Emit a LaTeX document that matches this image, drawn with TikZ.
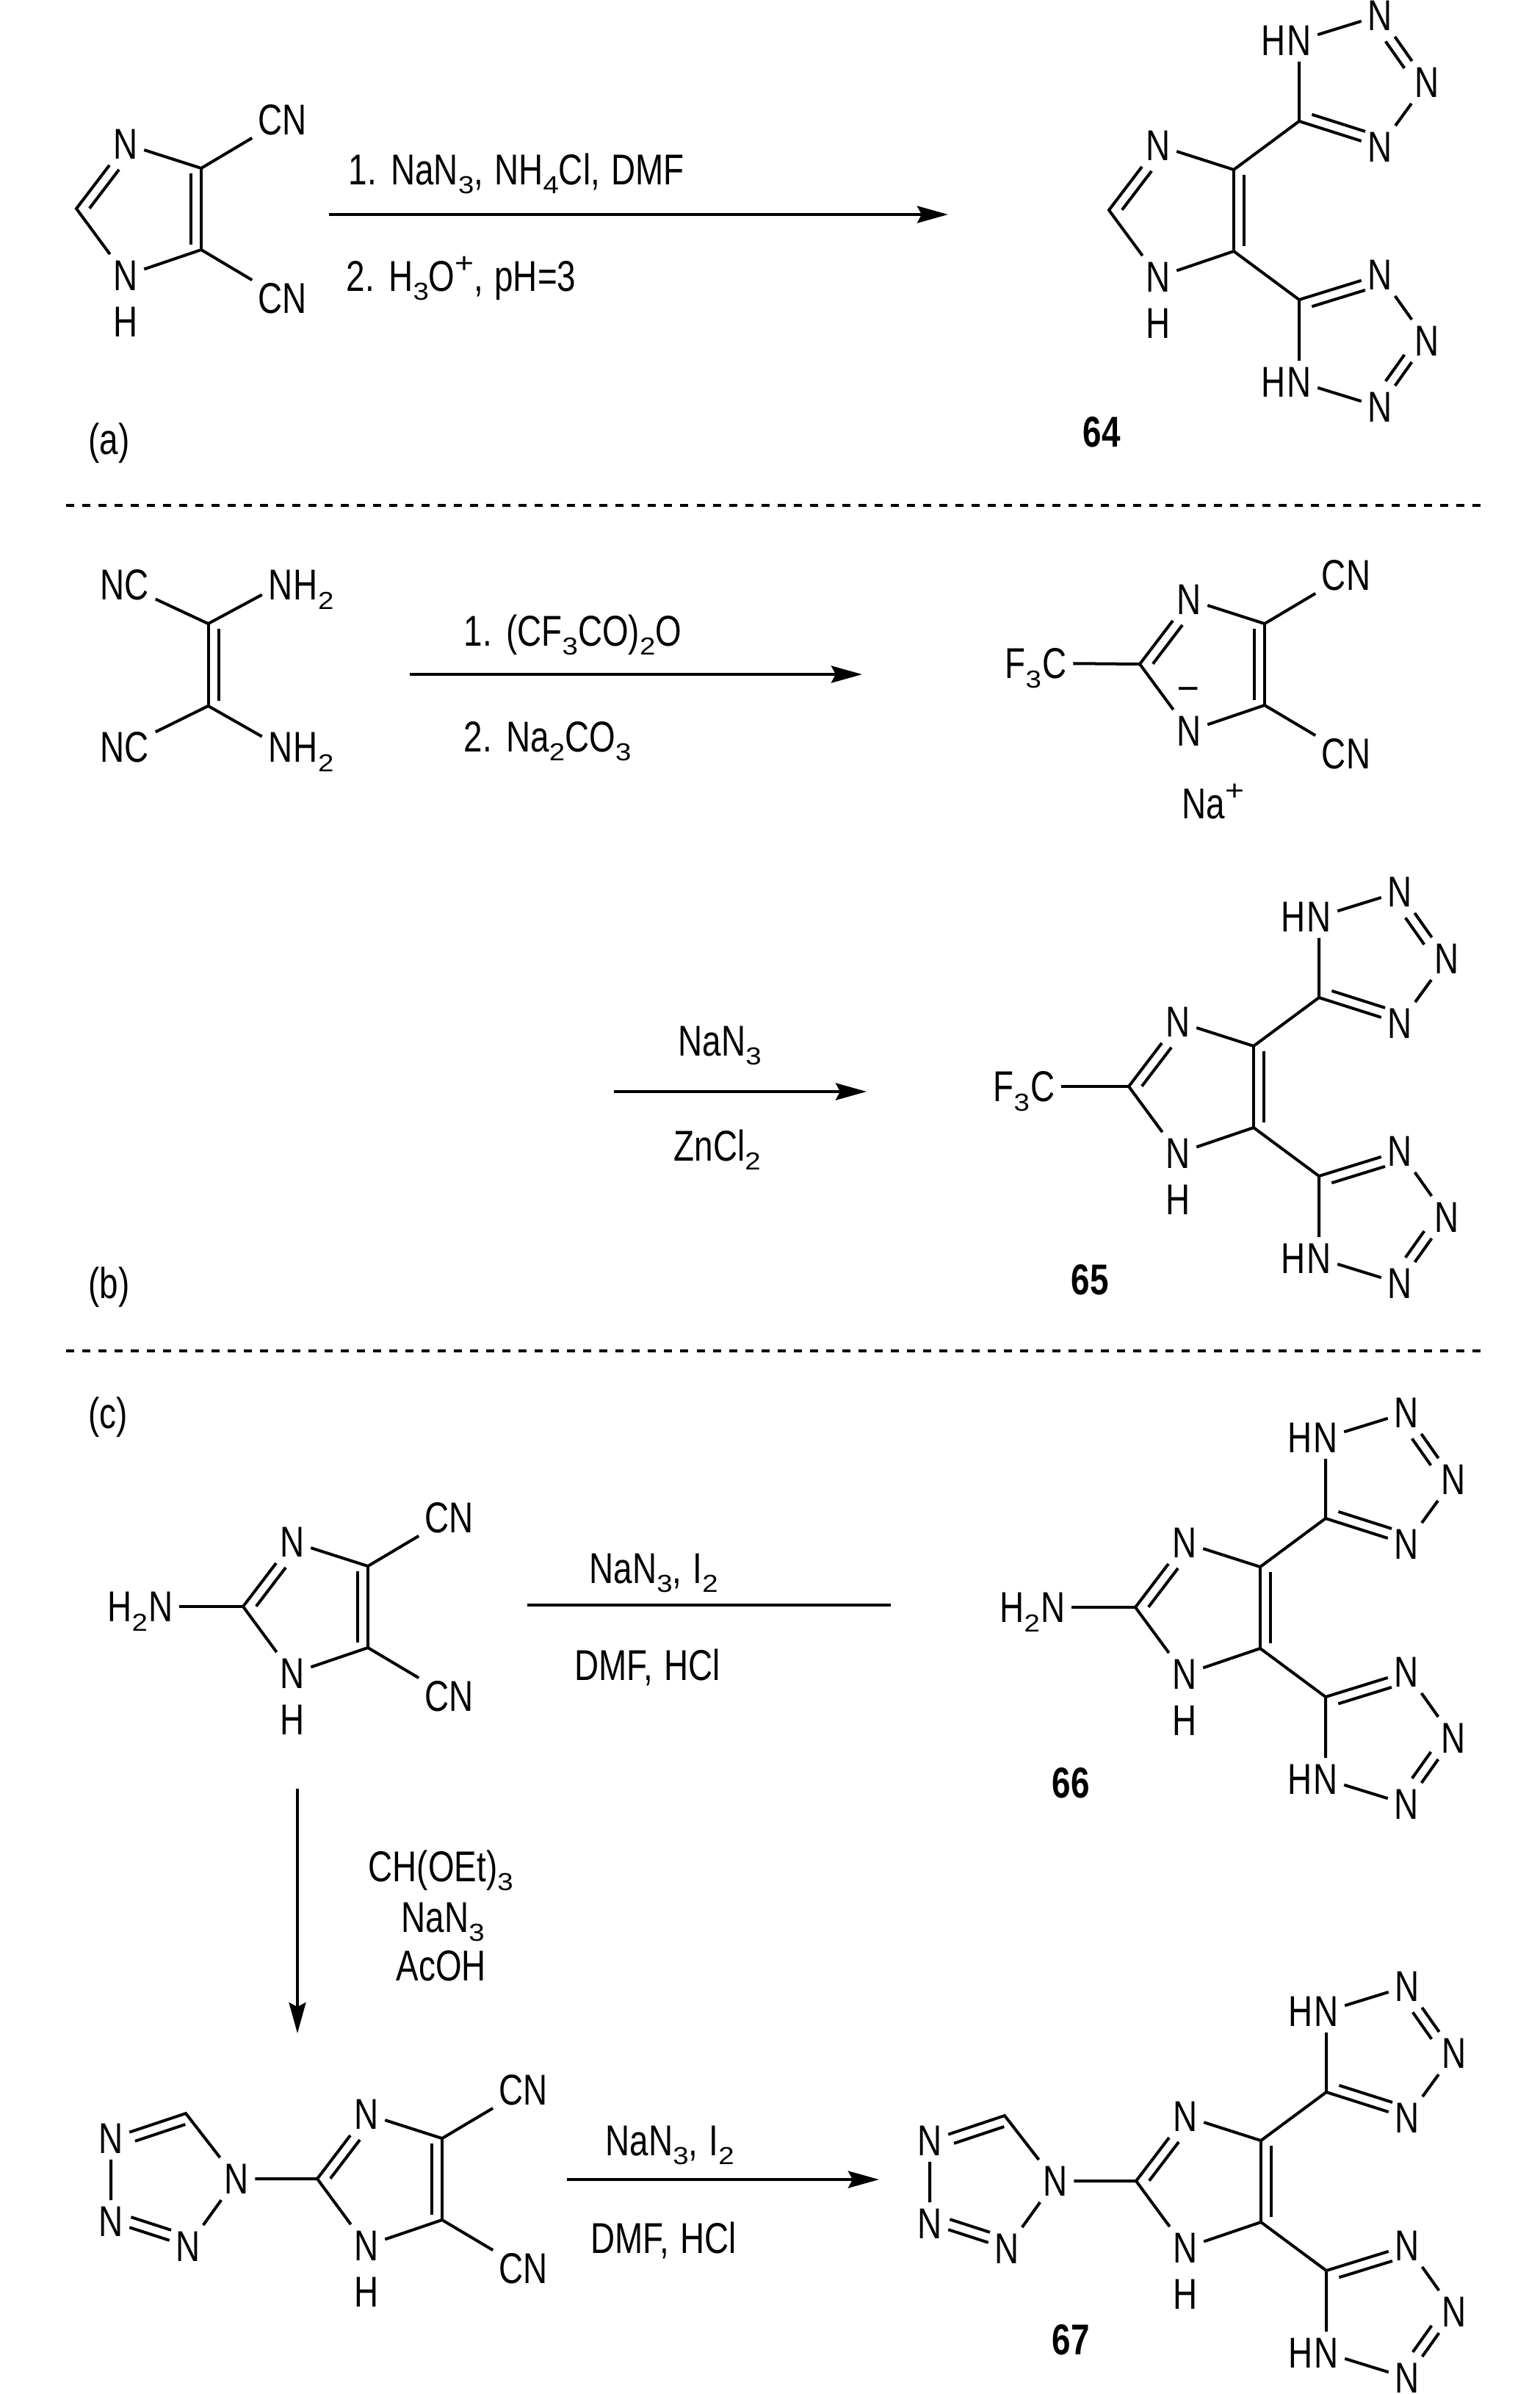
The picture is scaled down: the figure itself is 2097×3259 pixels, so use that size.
\documentclass[tikz,border=0pt]{standalone}
\usepackage{fontspec}
\setmainfont[FakeStretch=0.78, WordSpace=1.2]{Liberation Sans}
\newfontfamily\scriptface[FakeStretch=1.15]{Liberation Sans}
\usetikzlibrary{arrows.meta,calc}

\newcommand{\lo}[1]{\raisebox{-.22em}{\scriptface\fontsize{9.5}{10}\selectfont #1}}
\newcommand{\hi}[1]{\raisebox{.42em}{\scriptface\fontsize{11}{12}\selectfont #1}}

\tikzset{
	atom/.style={inner sep=0.08cm},
	tail/.style={inner sep=0pt},
	cond/.style={inner sep=0pt, anchor=base west},
	numlabel/.style={inner sep=0pt, anchor=base, font=\fontsize{16.7}{18}\selectfont\bfseries},
	bond/.style={line width=0.04cm, line cap=butt},
	rxn/.style={line width=0.045cm, -{Stealth[length=0.42cm, width=0.23cm, inset=0.06cm]}},
	every node/.append style={font=\fontsize{16.7}{18}\selectfont}
}

% second stroke of a double bond
\newcommand{\dblbond}[5]{
	\draw[bond] ($(#1)!#3!(#2)!0.14cm!#5:(#2)$) -- ($(#1)!#4!(#2)!0.14cm!#5:(#2)$);
}
\newcommand{\lefttail}[2]{
	\node[tail, anchor=base east] (#1t) at ([xshift=0.08cm]#1.base west) {#2};
}
\newcommand{\righttail}[2]{
	\node[tail, anchor=base west] (#1t) at ([xshift=-0.08cm]#1.base east) {#2};
}
% five-membered ring, #3 is the side of the inner C=C stroke
\newcommand{\imring}[3]{
	\begin{scope}[shift={#2}]
		\coordinate (#1c4) at (0,0);
		\coordinate (#1c5) at (0,111);
		\coordinate (#1c2) at (-170,55);
		\node[atom] (#1n3) at (-103,-33) {N};
		\node[atom] (#1n1) at (-103,146) {N};
		\draw[bond] (#1c4) -- (#1c5);
		\draw[bond] (#1c4) -- (#1n3) -- (#1c2) -- (#1n1) -- (#1c5);
		\dblbond{#1c4}{#1c5}{0.06}{0.94}{#3}
		\dblbond{#1c2}{#1n3}{0.1}{0.7}{-90}
	\end{scope}
}
\newcommand{\ringh}[2]{
	\begin{scope}[shift={#2}]
		\node[atom] (#1h) at (-103,209) {H};
	\end{scope}
}
\newcommand{\dicyano}[2]{
	\begin{scope}[shift={#2}]
		\node[atom] (#1cna) at (111,-66) {CN};
		\node[atom] (#1cnb) at (111,177) {CN};
		\draw[bond] (#1c4) -- (#1cna);
		\draw[bond] (#1c5) -- (#1cnb);
	\end{scope}
}
\newcommand{\bistet}[2]{
	\begin{scope}[shift={#2}]
		\coordinate (#1ca) at (89,-66);
		\node[atom] (#1na) at (89,-176) {N};
		\lefttail{#1na}{H}
		\node[atom] (#1nb) at (199,-210) {N};
		\node[atom] (#1nc) at (263,-119) {N};
		\node[atom] (#1nd) at (199,-31) {N};
		\draw[bond] (#1c4) -- (#1ca) -- (#1na) -- (#1nb) -- (#1nc) -- (#1nd) -- (#1ca);
		\dblbond{#1ca}{#1nd}{0.12}{0.78}{90}
		\dblbond{#1nb}{#1nc}{0.3}{0.7}{-90}
		\coordinate (#1cb) at (89,177);
		\node[atom] (#1ne) at (199,143) {N};
		\node[atom] (#1nf) at (263,233) {N};
		\node[atom] (#1ng) at (199,323) {N};
		\node[atom] (#1nh) at (89,289) {N};
		\lefttail{#1nh}{H}
		\draw[bond] (#1c5) -- (#1cb) -- (#1ne) -- (#1nf) -- (#1ng) -- (#1nh) -- (#1cb);
		\dblbond{#1cb}{#1ne}{0.12}{0.78}{-90}
		\dblbond{#1ng}{#1nf}{0.3}{0.7}{90}
	\end{scope}
}
\newcommand{\sidetet}[2]{
	\begin{scope}[shift={#2}]
		\node[atom] (#1sa) at (-280,55) {N};
		\coordinate (#1sb) at (-349,-34);
		\node[atom] (#1sc) at (-451,0) {N};
		\node[atom] (#1sd) at (-451,113) {N};
		\node[atom] (#1se) at (-346,147) {N};
		\draw[bond] (#1c2) -- (#1sa) -- (#1sb) -- (#1sc) -- (#1sd) -- (#1se) -- (#1sa);
		\dblbond{#1sb}{#1sc}{0.05}{0.72}{90}
		\dblbond{#1sd}{#1se}{0.22}{0.74}{90}
	\end{scope}
}

\begin{document}
\begin{tikzpicture}[x=0.01cm, y=-0.01cm]
	\path[use as bounding box, fill=white] (0,0) rectangle (2097,3259);

	\foreach \y [count=\i] in {687.5, 1839} {
		\coordinate (sepa\i) at (90,\y);
		\coordinate (sepb\i) at (2016,\y);
		\draw[line width=0.04cm, dash pattern=on 0.11cm off 0.11cm] (sepa\i) -- (sepb\i);
	}

	\foreach \px/\py/\txt [count=\i] in {
		474/251/{1. NaN\lo{3}, NH\lo{4}Cl, DMF},
		471/396/{2. H\lo{3}O\hi{+}, pH=3},
		631/879/{1. (CF\lo{3}CO)\lo{2}O},
		631/1023/{2. Na\lo{2}CO\lo{3}},
		923/1437/{NaN\lo{3}},
		917/1580/{ZnCl\lo{2}},
		802/2155/{NaN\lo{3}, I\lo{2}},
		782/2287/{DMF, HCl},
		501/2561/{CH(OEt)\lo{3}},
		546/2630/{NaN\lo{3}},
		539/2696/{AcOH},
		824/2934/{NaN\lo{3}, I\lo{2}},
		804/3067/{DMF, HCl},
		120/618/{(a)},
		120/1767/{(b)},
		120/1944/{(c)}}
		\node[cond] (cond\i) at (\px,\py) {\txt};

	\node[numlabel] (num64) at (1500,608) {64};
	\node[numlabel] (num65) at (1484,1762) {65};
	\node[numlabel] (num66) at (1458,2447) {66};
	\node[numlabel] (num67) at (1458,3205) {67};

	% (a)
	\imring{sa}{(274,229)}{-90}
	\ringh{sa}{(274,229)}
	\dicyano{sa}{(274,229)}
	\imring{pa}{(1680,231)}{90}
	\ringh{pa}{(1680,231)}
	\bistet{pa}{(1680,231)}
	\coordinate (arra1) at (448,292);
	\coordinate (arra2) at (1291,292);
	\draw[rxn] (arra1) -- (arra2);

	% (b)
	\coordinate (dca) at (283.5,849);
	\coordinate (dcb) at (283.5,961);
	\node[atom] (dnca) at (170,796) {NC};
	\node[atom] (dncb) at (170,1017) {NC};
	\node[atom] (dnha) at (382,796) {N};
	\righttail{dnha}{H\lo{2}}
	\node[atom] (dnhb) at (382,1017) {N};
	\righttail{dnhb}{H\lo{2}}
	\draw[bond] (dnca) -- (dca) -- (dnha);
	\draw[bond] (dncb) -- (dcb) -- (dnhb);
	\draw[bond] (dca) -- (dcb);
	\dblbond{dca}{dcb}{0.06}{0.94}{90}
	\imring{ib}{(1722,849)}{-90}
	\dicyano{ib}{(1722,849)}
	\node[atom] (ibc) at (1436,903) {C};
	\lefttail{ibc}{F\lo{3}}
	\draw[bond] (ibc) -- (ibc2);
	\node[tail, anchor=base] (ibm) at (1618,952) {–};
	\node[tail, anchor=base] (ibna) at (1652,1114) {Na\hi{+}};
	\coordinate (arrb1) at (558,918);
	\coordinate (arrb2) at (1174,918);
	\draw[rxn] (arrb1) -- (arrb2);
	\imring{pb}{(1707,1424)}{90}
	\ringh{pb}{(1707,1424)}
	\bistet{pb}{(1707,1424)}
	\node[atom] (pbc) at (1420,1479) {C};
	\lefttail{pbc}{F\lo{3}}
	\draw[bond] (pbc) -- (pbc2);
	\coordinate (arrc1) at (836,1486);
	\coordinate (arrc2) at (1180,1486);
	\draw[rxn] (arrc1) -- (arrc2);

	% (c)
	\imring{sc}{(501,2132)}{-90}
	\ringh{sc}{(501,2132)}
	\dicyano{sc}{(501,2132)}
	\node[atom] (scn) at (219,2187) {N};
	\lefttail{scn}{H\lo{2}}
	\draw[bond] (scn) -- (scc2);
	\imring{pc}{(1716,2133)}{90}
	\ringh{pc}{(1716,2133)}
	\bistet{pc}{(1716,2133)}
	\node[atom] (pcn) at (1434,2188) {N};
	\lefttail{pcn}{H\lo{2}}
	\draw[bond] (pcn) -- (pcc2);
	\coordinate (lina) at (718,2185);
	\coordinate (linb) at (1213,2185);
	\draw[line width=0.045cm] (lina) -- (linb);
	\coordinate (arrd1) at (405,2435);
	\coordinate (arrd2) at (405,2768);
	\draw[rxn, line width=0.035cm] (arrd1) -- (arrd2);
	\imring{ic}{(602,2911)}{-90}
	\ringh{ic}{(602,2911)}
	\dicyano{ic}{(602,2911)}
	\sidetet{ic}{(602,2911)}
	\imring{pd}{(1717,2914)}{90}
	\ringh{pd}{(1717,2914)}
	\bistet{pd}{(1717,2914)}
	\sidetet{pd}{(1717,2914)}
	\coordinate (arre1) at (772,2967);
	\coordinate (arre2) at (1197,2967);
	\draw[rxn] (arre1) -- (arre2);
\end{tikzpicture}
\end{document}
